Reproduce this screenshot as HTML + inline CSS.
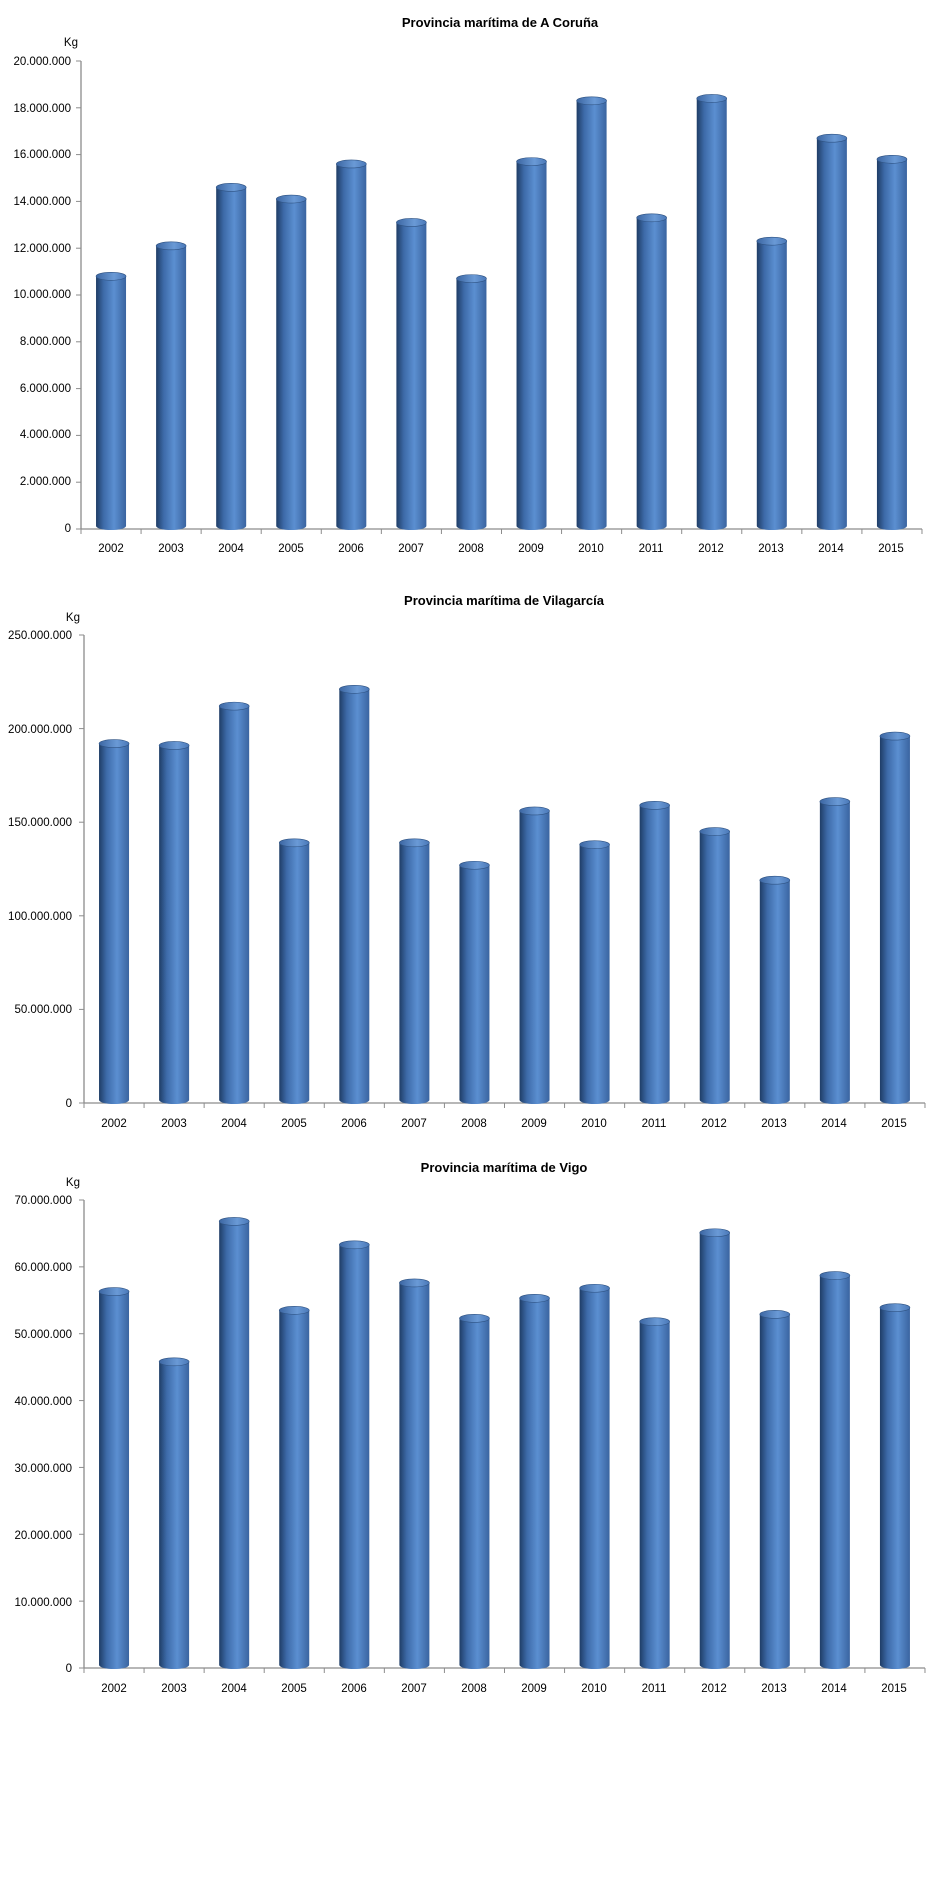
<!DOCTYPE html>
<html><head><meta charset="utf-8"><style>
html,body{margin:0;padding:0;background:#fff;}
svg{display:block;}
text{font-family:"Liberation Sans",sans-serif;fill:#000;}
.t{font-size:13px;font-weight:bold;}
.y{font-size:11.5px;}
.x{font-size:11.5px;}
</style></head><body>
<svg id="s" width="939" height="1900" viewBox="0 0 939 1900" xmlns="http://www.w3.org/2000/svg">
<defs>
<linearGradient id="g" x1="0" x2="1" y1="0" y2="0">
<stop offset="0" stop-color="#1f3d66"/><stop offset="0.25" stop-color="#3d6aa8"/>
<stop offset="0.6" stop-color="#5b8fd1"/><stop offset="1" stop-color="#3a64a0"/></linearGradient>
<linearGradient id="c" x1="0" x2="1" y1="0" y2="0">
<stop offset="0" stop-color="#3c66a2"/><stop offset="0.6" stop-color="#6a9ad6"/><stop offset="1" stop-color="#4a78b8"/></linearGradient>
</defs>
<text class="t" x="500" y="27" text-anchor="middle">Provincia marítima de A Coruña</text>
<text class="y" x="78" y="46" text-anchor="end">Kg</text>
<g class="y" text-anchor="end">
<text x="71" y="65">20.000.000</text><text x="71" y="112">18.000.000</text><text x="71" y="158">16.000.000</text><text x="71" y="205">14.000.000</text><text x="71" y="252">12.000.000</text><text x="71" y="298">10.000.000</text><text x="71" y="345">8.000.000</text><text x="71" y="392">6.000.000</text><text x="71" y="438">4.000.000</text><text x="71" y="485">2.000.000</text><text x="71" y="532">0</text>
</g>
<text class="t" x="504" y="605" text-anchor="middle">Provincia marítima de Vilagarcía</text>
<text class="y" x="80" y="621" text-anchor="end">Kg</text>
<g class="y" text-anchor="end">
<text x="72" y="639">250.000.000</text><text x="72" y="733">200.000.000</text><text x="72" y="826">150.000.000</text><text x="72" y="920">100.000.000</text><text x="72" y="1013">50.000.000</text><text x="72" y="1107">0</text>
</g>
<text class="t" x="504" y="1172" text-anchor="middle">Provincia marítima de Vigo</text>
<text class="y" x="80" y="1186" text-anchor="end">Kg</text>
<g class="y" text-anchor="end">
<text x="72" y="1204">70.000.000</text><text x="72" y="1271">60.000.000</text><text x="72" y="1338">50.000.000</text><text x="72" y="1405">40.000.000</text><text x="72" y="1472">30.000.000</text><text x="72" y="1539">20.000.000</text><text x="72" y="1606">10.000.000</text><text x="72" y="1672">0</text>
</g>
<g class="x" text-anchor="middle">
<text x="111" y="552">2002</text><text x="171" y="552">2003</text><text x="231" y="552">2004</text><text x="291" y="552">2005</text><text x="351" y="552">2006</text><text x="411" y="552">2007</text><text x="471" y="552">2008</text><text x="531" y="552">2009</text><text x="591" y="552">2010</text><text x="651" y="552">2011</text><text x="711" y="552">2012</text><text x="771" y="552">2013</text><text x="831" y="552">2014</text><text x="891" y="552">2015</text>
</g>
<g class="x" text-anchor="middle">
<text x="114" y="1127">2002</text><text x="174" y="1127">2003</text><text x="234" y="1127">2004</text><text x="294" y="1127">2005</text><text x="354" y="1127">2006</text><text x="414" y="1127">2007</text><text x="474" y="1127">2008</text><text x="534" y="1127">2009</text><text x="594" y="1127">2010</text><text x="654" y="1127">2011</text><text x="714" y="1127">2012</text><text x="774" y="1127">2013</text><text x="834" y="1127">2014</text><text x="894" y="1127">2015</text>
</g>
<g class="x" text-anchor="middle">
<text x="114" y="1692">2002</text><text x="174" y="1692">2003</text><text x="234" y="1692">2004</text><text x="294" y="1692">2005</text><text x="354" y="1692">2006</text><text x="414" y="1692">2007</text><text x="474" y="1692">2008</text><text x="534" y="1692">2009</text><text x="594" y="1692">2010</text><text x="654" y="1692">2011</text><text x="714" y="1692">2012</text><text x="774" y="1692">2013</text><text x="834" y="1692">2014</text><text x="894" y="1692">2015</text>
</g>
</svg>
<script>
var s=document.getElementById('s'),NS='http://www.w3.org/2000/svg';
function el(n,a){var e=document.createElementNS(NS,n);for(var k in a)e.setAttribute(k,a[k]);s.appendChild(e);return e;}
function chart(x0,top,bot,max,nt,vals){
 var w=60.07;
 el('line',{x1:x0,y1:top,x2:x0,y2:bot,stroke:'#8c8c8c','stroke-width':1.3});
 el('line',{x1:x0,y1:bot,x2:x0+14*w,y2:bot,stroke:'#8c8c8c','stroke-width':1.3});
 for(var i=0;i<=nt;i++){var y=top+(bot-top)*i/nt;el('line',{x1:x0-5,y1:y,x2:x0,y2:y,stroke:'#8c8c8c'});}
 for(var i=0;i<=14;i++){var x=x0+i*w;el('line',{x1:x,y1:bot,x2:x,y2:bot+5,stroke:'#8c8c8c'});}
 vals.forEach(function(v,i){
  var cx=x0+w*i+w/2,bw=30,y=bot-(bot-top)*v/max,b=bot-3;
  el('path',{d:'M'+(cx-bw/2)+' '+y+' L'+(cx-bw/2)+' '+b+' A'+bw/2+' 4 0 0 0 '+(cx+bw/2)+' '+b+' L'+(cx+bw/2)+' '+y+' Z',fill:'url(#g)'});
  el('ellipse',{cx:cx,cy:y,rx:bw/2,ry:4,fill:'url(#c)',stroke:'#2e5282','stroke-width':0.6});
 });
}
chart(81,61,529,20,10,[10.8,12.1,14.6,14.1,15.6,13.1,10.7,15.7,18.3,13.3,18.4,12.3,16.7,15.8]);
chart(84,635,1103,250,5,[192,191,212,139,221,139,127,156,138,159,145,119,161,196]);
chart(84,1200,1668,70,7,[56.3,45.8,66.8,53.5,63.3,57.6,52.3,55.3,56.8,51.8,65.1,52.9,58.7,53.9]);
</script>
</body></html>
